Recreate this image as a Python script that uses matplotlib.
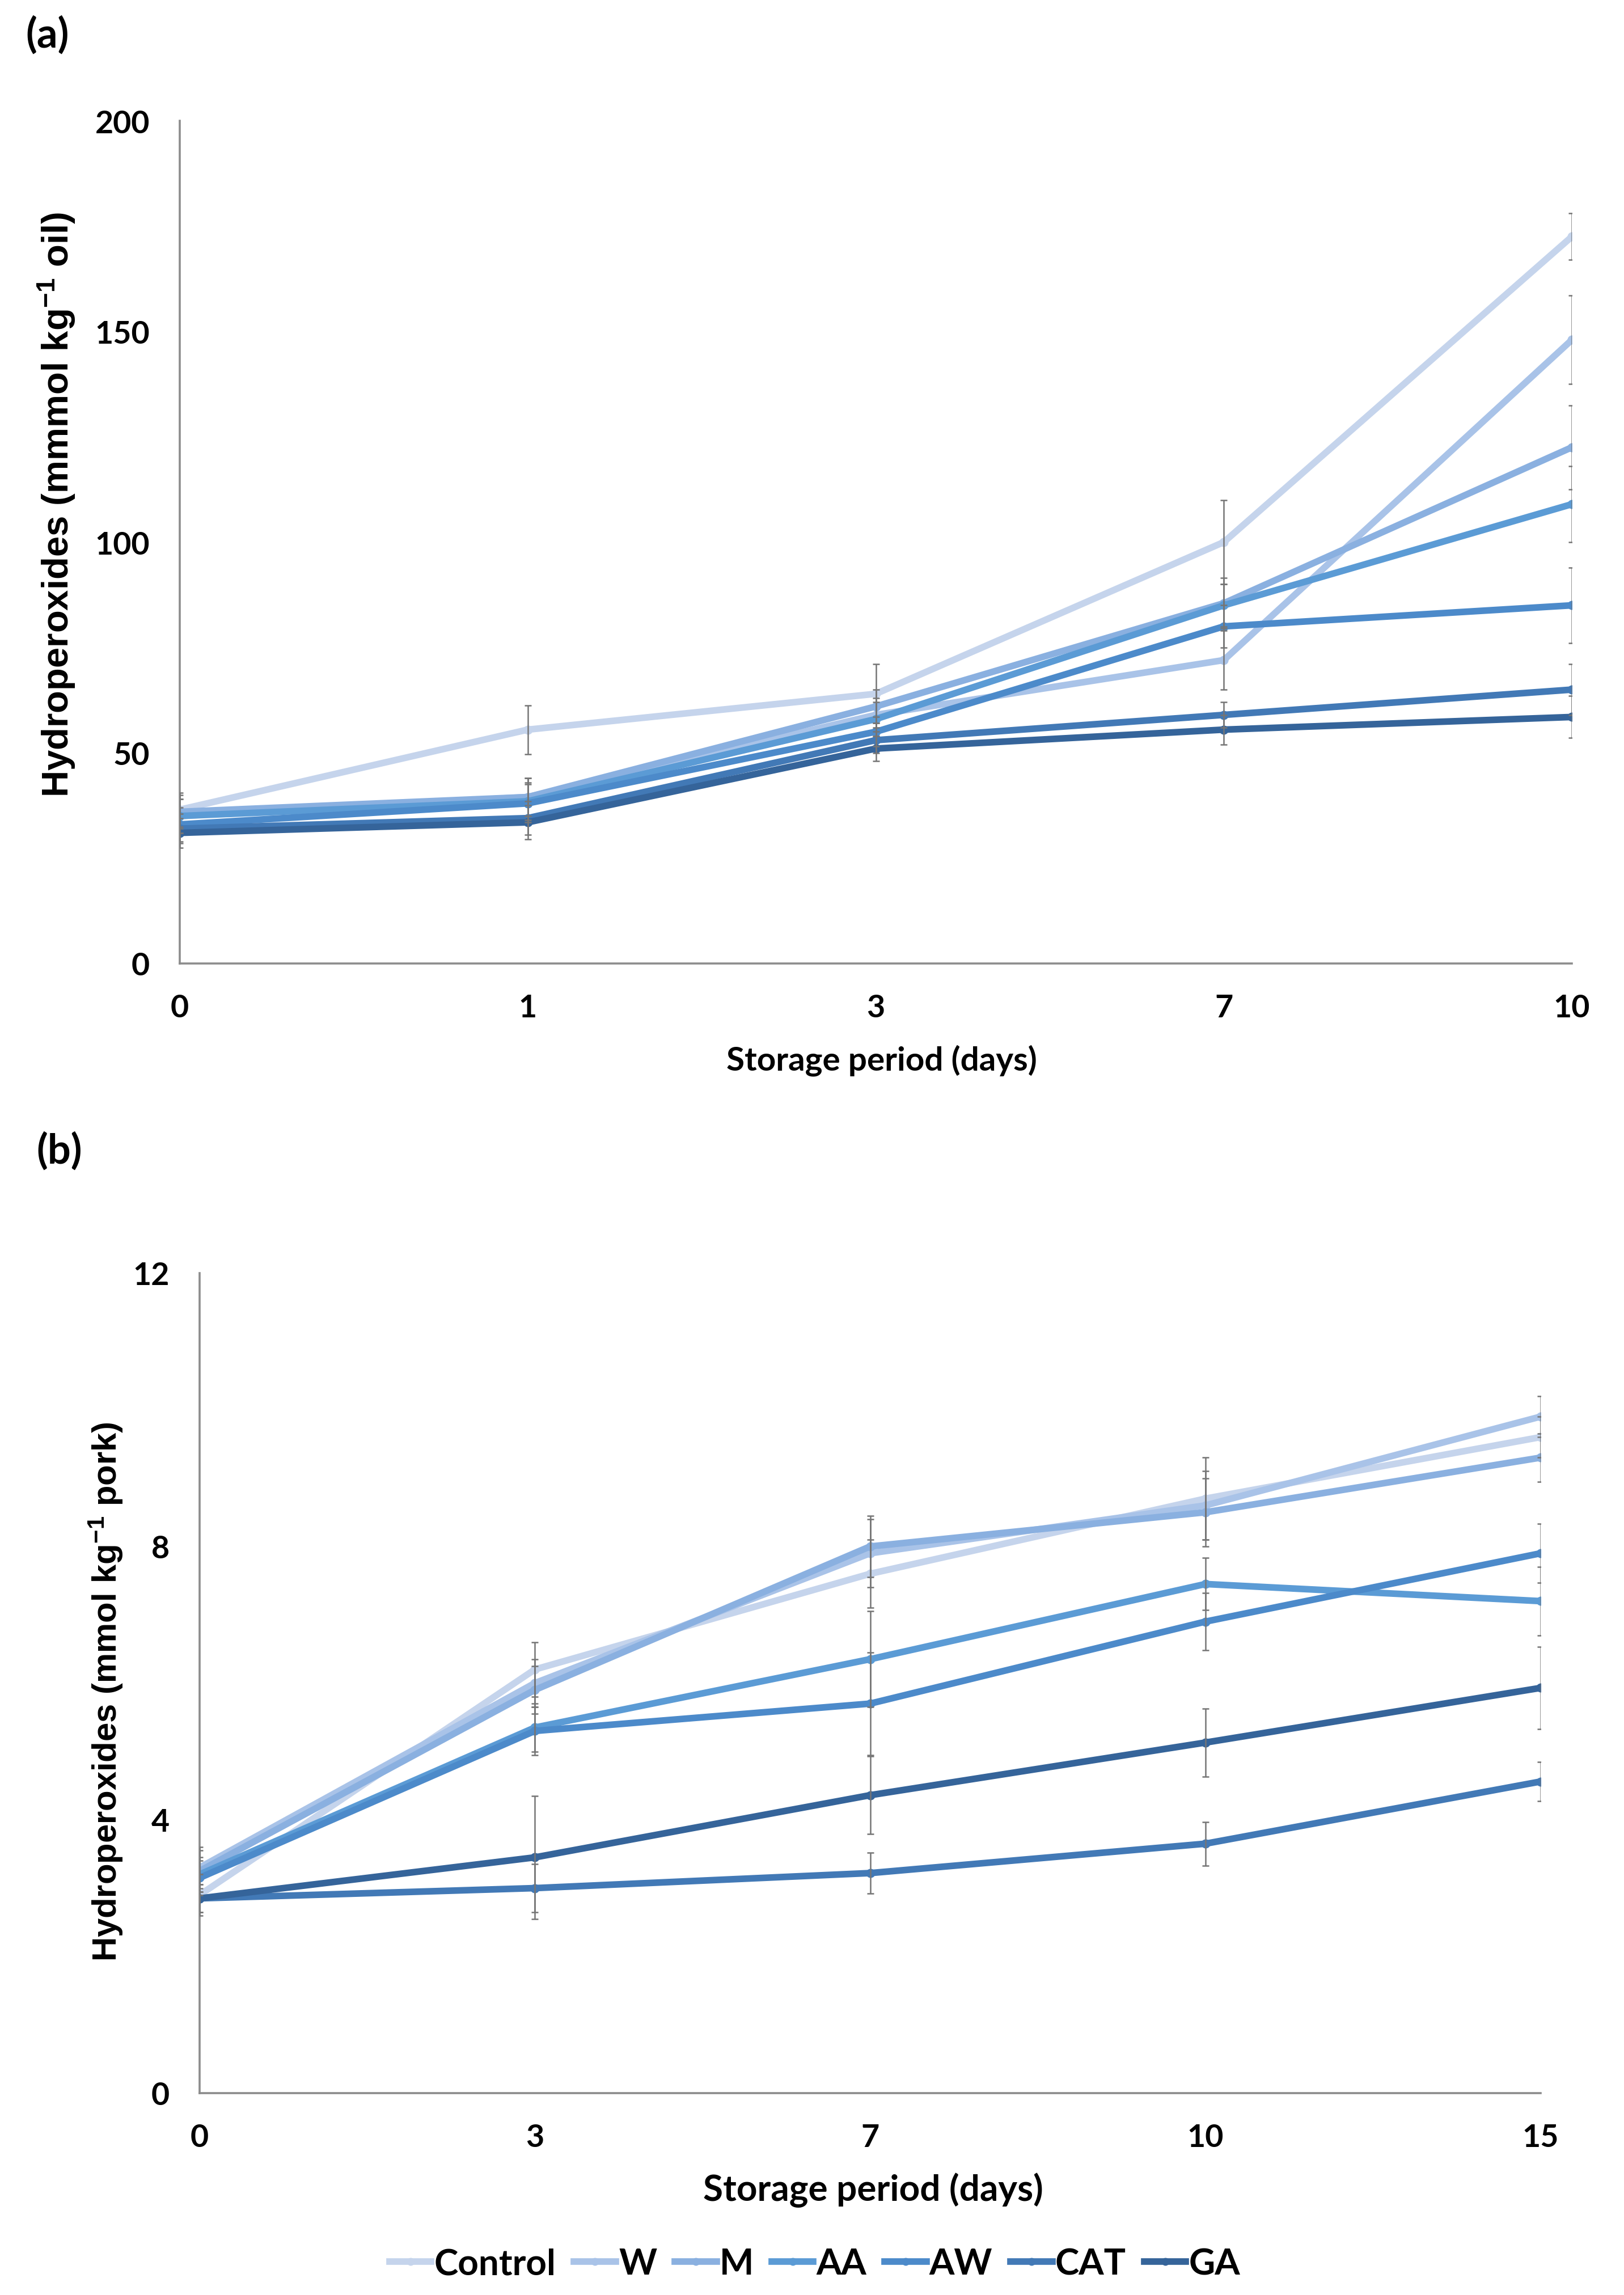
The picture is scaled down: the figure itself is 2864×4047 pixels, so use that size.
import matplotlib
matplotlib.use('Agg')
import matplotlib.pyplot as plt
from matplotlib.lines import Line2D

plt.rcParams['mathtext.fontset'] = 'custom'
plt.rcParams['mathtext.rm'] = 'Liberation Sans'
plt.rcParams['mathtext.default'] = 'regular'

# ---------------- data ----------------
series = ['Control', 'W', 'M', 'AA', 'AW', 'CAT', 'GA']
colors = ['#C5D4EC', '#A9C3E8', '#8AB0E0', '#5B9BD5', '#4C8ACA', '#4279B6', '#35649A']

days_a = ['0', '1', '3', '7', '10']
control_a = [36.5, 55.5, 64.0, 100.0, 172.5]
w_a = [35.0, 39.5, 59.0, 72.0, 148.0]
m_a = [36.0, 39.5, 61.0, 85.5, 122.5]
aa_a = [35.0, 38.5, 58.0, 85.0, 109.0]
aw_a = [33.0, 38.0, 55.0, 80.0, 85.0]
cat_a = [32.0, 34.5, 53.0, 59.0, 65.0]
ga_a = [31.0, 33.5, 51.0, 55.5, 58.5]
err_control_a = [4.0, 5.8, 7.0, 10.0, 5.5]
err_w_a = [4.0, 4.5, 4.0, 7.0, 10.5]
err_m_a = [4.0, 4.5, 4.0, 6.0, 10.0]
err_aa_a = [4.0, 4.5, 4.0, 5.0, 9.0]
err_aw_a = [4.0, 4.5, 3.5, 5.0, 9.0]
err_cat_a = [3.5, 4.0, 3.0, 3.0, 6.0]
err_ga_a = [3.5, 4.0, 3.0, 3.5, 5.0]

days_b = ['0', '3', '7', '10', '15']
control_b = [2.9, 6.2, 7.6, 8.7, 9.6]
w_b = [3.3, 6.0, 7.9, 8.6, 9.9]
m_b = [3.25, 5.9, 8.0, 8.5, 9.3]
aa_b = [3.2, 5.35, 6.35, 7.45, 7.2]
aw_b = [3.15, 5.3, 5.7, 6.9, 7.9]
cat_b = [2.85, 3.0, 3.22, 3.65, 4.56]
ga_b = [2.85, 3.45, 4.36, 5.13, 5.93]
err_control_b = [0.3, 0.4, 0.5, 0.6, 0.3]
err_w_b = [0.3, 0.35, 0.5, 0.5, 0.3]
err_m_b = [0.3, 0.35, 0.45, 0.5, 0.35]
err_aa_b = [0.25, 0.35, 0.7, 0.38, 0.5]
err_aw_b = [0.25, 0.35, 0.75, 0.42, 0.43]
err_cat_b = [0.2, 0.35, 0.3, 0.32, 0.29]
err_ga_b = [0.2, 0.9, 0.57, 0.5, 0.6]

vals_a = [control_a, w_a, m_a, aa_a, aw_a, cat_a, ga_a]
errs_a = [err_control_a, err_w_a, err_m_a, err_aa_a, err_aw_a, err_cat_a, err_ga_a]
vals_b = [control_b, w_b, m_b, aa_b, aw_b, cat_b, ga_b]
errs_b = [err_control_b, err_w_b, err_m_b, err_aa_b, err_aw_b, err_cat_b, err_ga_b]

# ---------------- figure ----------------
W, H = 2864, 4048
DPI = 200
fig = plt.figure(figsize=(W / DPI, H / DPI), dpi=DPI)

TICKFONT = dict(family='Lato', weight='bold', size=20)
LW = 4.2
AXCOL = '#8C8C8C'


def fx(px):
    return px / W


def fy(py):
    return 1 - py / H


def panel(rect, cats, vals, errs, ylim, yticks):
    ax = fig.add_axes(rect)
    x = list(range(len(cats)))
    for name, col, v in zip(series, colors, vals):
        ax.plot(x, v, color=col, lw=LW, marker='o', ms=4.8, mfc=col, mec=col,
                solid_joinstyle='round', solid_capstyle='round', zorder=2, label=name)
    for v, e in zip(vals, errs):
        ax.errorbar(x, v, yerr=e, fmt='none', ecolor='#757575', elinewidth=0.9,
                    capsize=2.2, capthick=0.9, zorder=4)
    ax.set_xlim(0, len(cats) - 1)
    ax.set_ylim(*ylim)
    ax.set_xticks(x)
    ax.set_xticklabels(cats)
    ax.set_yticks(yticks)
    ax.set_yticklabels([str(t) for t in yticks])
    for lab in ax.get_xticklabels() + ax.get_yticklabels():
        lab.set_fontfamily(TICKFONT['family'])
        lab.set_fontweight(TICKFONT['weight'])
        lab.set_fontsize(TICKFONT['size'])
    ax.tick_params(axis='both', length=0, pad=19)
    for s in ['top', 'right']:
        ax.spines[s].set_visible(False)
    for s in ['left', 'bottom']:
        ax.spines[s].set_color(AXCOL)
        ax.spines[s].set_linewidth(1.3)
    ax.set_facecolor('white')
    return ax


# panel (a)
ax_a = panel([fx(317), fy(1700), fx(2772 - 317), (1700 - 214) / H],
             days_a, vals_a, errs_a, (0, 200), [0, 50, 100, 150, 200])
# panel (b)
ax_b = panel([fx(352), fy(3692), fx(2717 - 352), (3692 - 2246) / H],
             days_b, vals_b, errs_b, (0, 12), [0, 4, 8, 12])

# panel letters
fig.text(fx(84), fy(62), '(a)', ha='center', va='center', family='Lato', weight='bold', size=26)
fig.text(fx(105), fy(2030), '(b)', ha='center', va='center', family='Lato', weight='bold', size=26)

# axis titles
fig.text(fx(1555), fy(1870), 'Storage period (days)', ha='center', va='center',
         family='Lato', weight='bold', size=21)
fig.text(fx(1540), fy(3862), 'Storage period (days)', ha='center', va='center',
         family='Lato', weight='bold', size=23)
fig.text(fx(100), fy(890), r'Hydroperoxides (mmmol kg$^{-1}$ oil)', ha='center', va='center',
         rotation=90, family='Liberation Sans', weight='bold', size=23.5)
fig.text(fx(187), fy(2983), r'Hydroperoxides (mmol kg$^{-1}$ pork)', ha='center', va='center',
         rotation=90, family='Liberation Sans', weight='bold', size=21.5)

# legend
handles = [Line2D([0], [0], color=c, lw=LW, marker='o', ms=4, mfc=c, mec=c) for c in colors]
fig.legend(handles, series, loc='center', bbox_to_anchor=(fx(1437), fy(3993)), ncol=7,
           frameon=False, handlelength=1.15, handletextpad=0.08, columnspacing=0.5,
           prop=dict(family='Lato', weight='bold', size=23))

fig.savefig('out.png', dpi=DPI, facecolor='white')
